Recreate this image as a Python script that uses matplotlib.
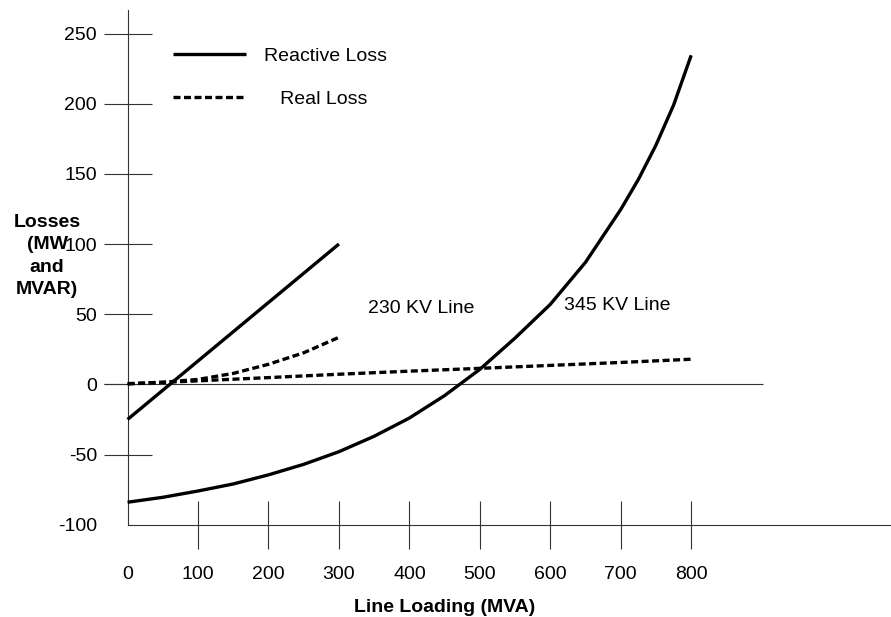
import matplotlib
matplotlib.use("Agg")
import matplotlib.pyplot as plt

plt.rcParams['font.family'] = ['Liberation Sans', 'DejaVu Sans']

# ---------------- data ----------------
load_230_reactive = [0, 300]
reactive_230 = [-25, 100]

load_230_real = [0, 50, 100, 150, 200, 250, 300]
real_230 = [0.5, 1.5, 3.5, 7.8, 14.3, 22.5, 33.5]

load_345_reactive = [0, 50, 100, 150, 200, 250, 300, 350, 400, 450, 500,
                     550, 600, 650, 700, 725, 750, 775, 800]
reactive_345 = [-84, -80.5, -76, -71, -64.5, -57, -48, -37, -24, -8, 10.7,
                33, 57, 87, 124.6, 146, 170.5, 199, 234.5]

load_345_real = [0, 100, 200, 300, 400, 500, 600, 700, 800]
real_345 = [0.3, 2.5, 4.8, 7.2, 9.4, 11.4, 13.5, 15.6, 17.9]

x_ticks = [0, 100, 200, 300, 400, 500, 600, 700, 800]
x_tick_labels = ['0', '100', '200', '300', '400', '500', '600', '700', '800']
y_ticks = [-100, -50, 0, 50, 100, 150, 200, 250]
y_tick_labels = ['-100', '-50', '0', '50', '100', '150', '200', '250']

axis_color = '#333333'
lw = 2.4
dash = (0, (2.1, 1.05))

# ---------------- figure ----------------
fig = plt.figure(figsize=(8.91, 6.17), dpi=100)
ax = fig.add_axes([0, 0, 1, 1])
ax.set_xlim(-181.1, 1083.6)
ax.set_ylim(-165.8, 273.9)
ax.patch.set_visible(False)

for s in ['top', 'right']:
    ax.spines[s].set_visible(False)
ax.spines['left'].set_position(('data', 0))
ax.spines['bottom'].set_position(('data', -100))
ax.spines['left'].set_bounds(-100, 266.7)
ax.spines['bottom'].set_bounds(0, 1083.6)
for s in ['left', 'bottom']:
    ax.spines[s].set_color(axis_color)
    ax.spines[s].set_linewidth(0.8)

# zero reference line
ax.hlines(0, -33, 902, color=axis_color, lw=0.8, zorder=1)

# curves
l_reac, = ax.plot(load_230_reactive, reactive_230, color='black', lw=lw,
                  solid_capstyle='butt', solid_joinstyle='round',
                  label='Reactive Loss', zorder=3)
l_real, = ax.plot(load_230_real, real_230, color='black', lw=lw, ls=dash,
                  label='   Real Loss', zorder=3)
ax.plot(load_345_reactive, reactive_345, color='black', lw=lw,
        solid_capstyle='butt', solid_joinstyle='round', zorder=3)
ax.plot(load_345_real, real_345, color='black', lw=lw, ls=dash, zorder=3)

# ticks
ax.set_xticks(x_ticks)
ax.set_xticklabels(x_tick_labels)
ax.set_yticks(y_ticks)
ax.set_yticklabels(y_tick_labels)
ax.tick_params(axis='both', direction='inout', length=34, width=0.8,
               color=axis_color, labelsize=14, labelcolor='black')
ax.tick_params(axis='y', pad=5)
ax.tick_params(axis='x', pad=12.5)
xt = ax.xaxis.get_major_ticks()
xt[0].tick1line.set_visible(False)
yt = ax.yaxis.get_major_ticks()
yt[0].tick1line.set_visible(False)

# axis labels
ax.set_xlabel('Line Loading (MVA)', fontsize=14, fontweight='bold', va='center')
ax.xaxis.set_label_coords(445 / 891, 1 - 608 / 617)
ax.set_ylabel('Losses\n(MW\nand\nMVAR)', fontsize=14, fontweight='bold',
              rotation=0, ha='center', va='center', multialignment='center',
              linespacing=1.4)
ax.yaxis.set_label_coords(47 / 891, 1 - 256 / 617)

# annotations
ax.text(341.2, 54.4, '230 KV Line', fontsize=14, ha='left', va='center')
ax.text(619.5, 56.5, '345 KV Line', fontsize=14, ha='left', va='center')

# legend
ax.legend(handles=[l_reac, l_real], loc='upper left',
          bbox_to_anchor=(173 / 891, 1 - 47 / 617), bbox_transform=fig.transFigure,
          frameon=False, fontsize=14, handlelength=3.76, handletextpad=0.94,
          labelspacing=1.3, borderpad=0, borderaxespad=0)

fig.savefig('out.png', dpi=100)
